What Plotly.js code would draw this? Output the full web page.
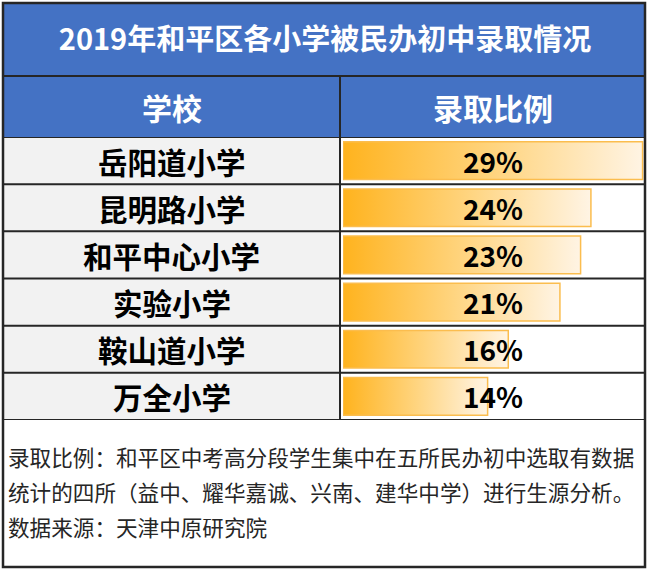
<!DOCTYPE html>
<html>
<head>
<meta charset="utf-8">
<script src="https://cdn.plot.ly/plotly-3.0.1.min.js"></script>
<style>html,body{margin:0;padding:0;background:#fff;}#chart{width:650px;height:573px;}</style>
</head>
<body>
<div id="chart"></div>
<script>
// ---- data ----
const titleText = '2019年和平区各小学被民办初中录取情况';
const headers = ['学校', '录取比例'];
const schools = ['岳阳道小学', '昆明路小学', '和平中心小学', '实验小学', '鞍山道小学', '万全小学'];
const rates = [29, 24, 23, 21, 16, 14];
const notes = [
  '录取比例：和平区中考高分段学生集中在五所民办初中选取有数据',
  '统计的四所（益中、耀华嘉诚、兴南、建华中学）进行生源分析。',
  '数据来源：天津中原研究院'
];

// ---- layout helpers (pixel -> paper) ----
const W = 650, H = 573;
const px = x => x / W;
const py = y => 1 - y / H;
const FONT = '"Noto Sans CJK SC", "Noto Sans", sans-serif';
const BLUE = '#4472C4';
const LINE = '#262626';

const L = 3, R = 645, T = 3, B = 567;
const titleBottom = 76, headBottom = 137, tableBottom = 420, colX = 340;
const barLeft = 343;
const pxPerUnit = 10.33;

const traces = schools.map((s, i) => ({
  type: 'scatter',
  mode: 'lines',
  x: [0, rates[i], rates[i], 0, 0],
  y: [i - 0.4, i - 0.4, i + 0.4, i + 0.4, i - 0.4],
  fill: 'toself',
  fillgradient: {type: 'horizontal', colorscale: [[0, '#FFB31E'], [0.5, '#FFD47E'], [1, '#FFF4E4']]},
  line: {color: '#FBBD4E', width: 1.5},
  hoverinfo: 'skip',
  showlegend: false
}));

const shapes = [];
// title band
shapes.push({type: 'rect', xref: 'paper', yref: 'paper', x0: px(L), x1: px(R), y0: py(titleBottom), y1: py(T), fillcolor: BLUE, line: {width: 0}, layer: 'below'});
// header band
shapes.push({type: 'rect', xref: 'paper', yref: 'paper', x0: px(L), x1: px(R), y0: py(headBottom), y1: py(titleBottom), fillcolor: BLUE, line: {width: 0}, layer: 'below'});
// left column gray
shapes.push({type: 'rect', xref: 'paper', yref: 'paper', x0: px(L), x1: px(colX), y0: py(tableBottom), y1: py(headBottom), fillcolor: '#F2F2F2', line: {width: 0}, layer: 'below'});
// row separators (from axis coordinates)
for (let i = 0; i <= schools.length; i++) {
  shapes.push({type: 'line', xref: 'paper', yref: 'y', x0: px(L), x1: px(R), y0: i - 0.5, y1: i - 0.5, line: {color: LINE, width: 2}, layer: 'above'});
}
// title band bottom line
shapes.push({type: 'line', xref: 'paper', yref: 'paper', x0: px(L), x1: px(R), y0: py(titleBottom), y1: py(titleBottom), line: {color: LINE, width: 2}, layer: 'above'});
// column divider
shapes.push({type: 'line', xref: 'paper', yref: 'paper', x0: px(colX), x1: px(colX), y0: py(tableBottom), y1: py(titleBottom), line: {color: LINE, width: 2}, layer: 'above'});
// outer frame
shapes.push({type: 'rect', xref: 'paper', yref: 'paper', x0: px(L), x1: px(R), y0: py(B), y1: py(T), line: {color: LINE, width: 2.5}, fillcolor: 'rgba(0,0,0,0)', layer: 'above'});

const annotations = [];
const colCenters = [(L + colX) / 2, (colX + R) / 2];
headers.forEach((h, j) => annotations.push({
  text: h, xref: 'paper', yref: 'paper', x: px(colCenters[j]), y: py(107),
  xanchor: 'center', yanchor: 'middle', showarrow: false,
  font: {family: FONT, size: 30, color: '#FFFFFF', weight: 700}
}));
schools.forEach((s, i) => {
  annotations.push({
    text: s, xref: 'paper', yref: 'y', x: px(colCenters[0]), y: i,
    xanchor: 'center', yanchor: 'middle', showarrow: false,
    font: {family: FONT, size: 29.5, color: '#000000', weight: 700}
  });
  annotations.push({
    text: rates[i] + '%', xref: 'paper', yref: 'y', x: px(colCenters[1]), y: i,
    xanchor: 'center', yanchor: 'middle', showarrow: false,
    font: {family: FONT, size: 28, color: '#000000', weight: 700}
  });
});
const noteY = [456, 491, 526];
notes.forEach((n, k) => annotations.push({
  text: n, xref: 'paper', yref: 'paper', x: px(6), y: py(noteY[k]),
  xanchor: 'left', yanchor: 'middle', showarrow: false,
  font: {family: FONT, size: 21.6, color: '#262626'}
}));

const layout = {
  width: W, height: H,
  margin: {l: 0, r: 0, t: 0, b: 0},
  paper_bgcolor: '#FFFFFF', plot_bgcolor: 'rgba(0,0,0,0)',
  title: {text: titleText, x: 0.5, xanchor: 'center', y: py(40), yanchor: 'middle',
          font: {family: FONT, size: 29, color: '#FFFFFF', weight: 700}},
  xaxis: {domain: [px(barLeft), px(R)], range: [0, (R - barLeft) / pxPerUnit],
          showgrid: false, zeroline: false, showticklabels: false, showline: false, fixedrange: true},
  yaxis: {domain: [py(tableBottom), py(headBottom)], range: [schools.length - 0.5, -0.5],
          showgrid: false, zeroline: false, showticklabels: false, showline: false, fixedrange: true},
  shapes: shapes,
  annotations: annotations,
  showlegend: false
};

Plotly.newPlot('chart', traces, layout, {displayModeBar: false, staticPlot: true});
</script>
</body>
</html>
